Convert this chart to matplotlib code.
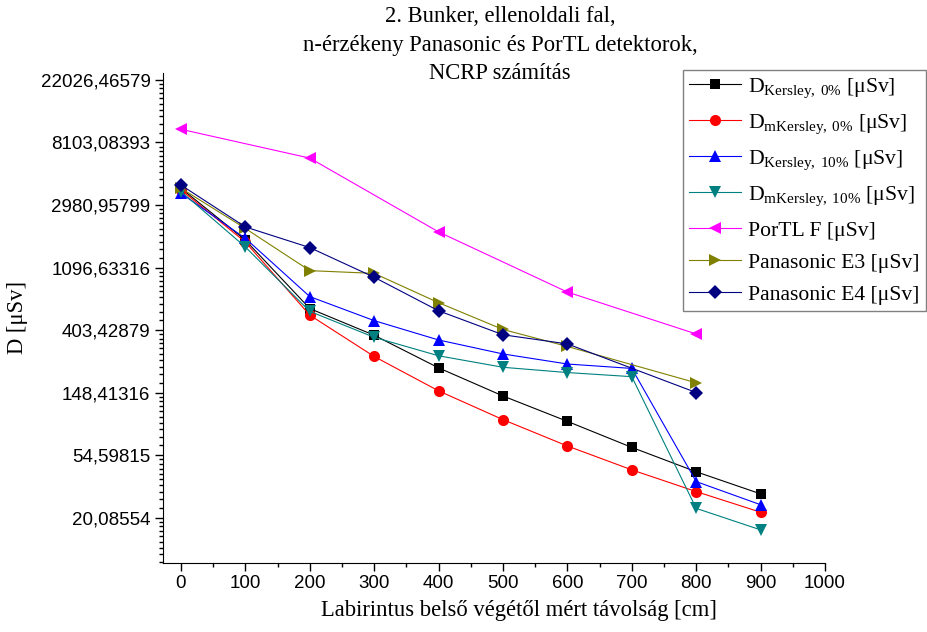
import numpy as np
import matplotlib
matplotlib.use('Agg')
import matplotlib.pyplot as plt
from matplotlib.ticker import FixedLocator, FuncFormatter, MultipleLocator, NullFormatter

plt.rcParams['font.family'] = 'Liberation Serif'
plt.rcParams['mathtext.fontset'] = 'custom'
plt.rcParams['mathtext.rm'] = 'Liberation Serif'

# distance from the inner end of the maze [cm]
dist = [0, 100, 200, 300, 400, 500, 600, 700, 800, 900]
dist_pana = [0, 100, 200, 300, 400, 500, 600, 800]
dist_portl = [0, 200, 400, 600, 800]

# doses [uSv]
kersley_0 = [3900, 1700, 570, 372, 221, 141, 94, 62, 42, 29.5]
mkersley_0 = [3800, 1650, 513, 265, 153, 96.6, 63.4, 43.3, 30.6, 22]
kersley_10 = [3600, 1750, 690, 470, 345, 276, 235, 219, 35.9, 24.8]
mkersley_10 = [3700, 1525, 545, 360, 268, 223, 205, 192, 23.4, 16.6]
portl_f = [10000, 6310, 1940, 742, 380]
pana_e3 = [3900, 2050, 1045, 1000, 626, 408, 311, 174]
pana_e4 = [4100, 2100, 1510, 940, 550, 375, 324, 149]

series = [
    (dist, kersley_0, r'D$_{\mathregular{Kersley,}\,\mathregular{0\%}}$ [μSv]', 'black', 's', 7.5),
    (dist, mkersley_0, r'D$_{\mathregular{mKersley,}\,\mathregular{0\%}}$ [μSv]', '#ff0000', 'o', 8),
    (dist, kersley_10, r'D$_{\mathregular{Kersley,}\,\mathregular{10\%}}$ [μSv]', '#0000ff', '^', 8.5),
    (dist, mkersley_10, r'D$_{\mathregular{mKersley,}\,\mathregular{10\%}}$ [μSv]', '#008080', 'v', 8.5),
    (dist_portl, portl_f, 'PorTL F [μSv]', '#ff00ff', '<', 8.5),
    (dist_pana, pana_e3, 'Panasonic E3 [μSv]', '#808000', '>', 8.5),
    (dist_pana, pana_e4, 'Panasonic E4 [μSv]', '#000080', 'D', 7),
]

fig = plt.figure(figsize=(9.28, 6.32), dpi=100)
ax = fig.add_axes([0.1756, 0.1092, 0.7134, 0.7753])

for x, y, label, color, marker, ms in series:
    ax.plot(x, y, color=color, marker=marker, markersize=ms, linewidth=0.8,
            markeredgewidth=0, label=label)

ax.set_yscale('log', base=np.e)
ax.set_ylim(np.exp(2.28), np.exp(10.11))
ax.set_xlim(-28, 1000)

major_y = np.exp(np.arange(3, 11))
ax.yaxis.set_major_locator(FixedLocator(major_y))
ax.yaxis.set_major_formatter(FuncFormatter(lambda v, p: f'{v:.5f}'.replace('.', ',')))
minor_y = []
for n in range(2, 11):
    lo, hi = np.exp(n), np.exp(n + 1)
    minor_y += list(lo + (hi - lo) * np.arange(1, 10) / 10)
ax.yaxis.set_minor_locator(FixedLocator(minor_y))
ax.yaxis.set_minor_formatter(NullFormatter())

ax.xaxis.set_major_locator(MultipleLocator(100))
ax.xaxis.set_minor_locator(MultipleLocator(50))

for lab in ax.get_xticklabels() + ax.get_yticklabels():
    lab.set_fontfamily('Liberation Sans')
ax.tick_params(which='major', direction='out', length=6, width=1, labelsize=13.5, pad=3)
ax.tick_params(which='minor', direction='out', length=3, width=1)

ax.spines['top'].set_visible(False)
ax.spines['right'].set_visible(False)

ax.set_xlabel('Labirintus belső végétől mért távolság [cm]', fontsize=16.3)
ax.xaxis.set_label_coords(0.538, -0.075)
ax.set_ylabel('D [μSv]', fontsize=16.3)
ax.yaxis.set_label_coords(-0.204, 0.5)

fig.text(0.539, 0.99, '2. Bunker, ellenoldali fal,\nn-érzékeny Panasonic és PorTL detektorok,\nNCRP számítás',
         ha='center', va='top', fontsize=16.3, linespacing=1.45)

leg = ax.legend(loc='upper right', bbox_to_anchor=(926 / 928, 1 - 70 / 632),
                bbox_transform=fig.transFigure, fontsize=15.6, frameon=True,
                fancybox=False, edgecolor='#808080', framealpha=1,
                handlelength=2.4, handletextpad=0.3, borderpad=0.3,
                labelspacing=0.55, borderaxespad=0)
leg.get_frame().set_linewidth(1)

fig.savefig('out.png', dpi=100)
